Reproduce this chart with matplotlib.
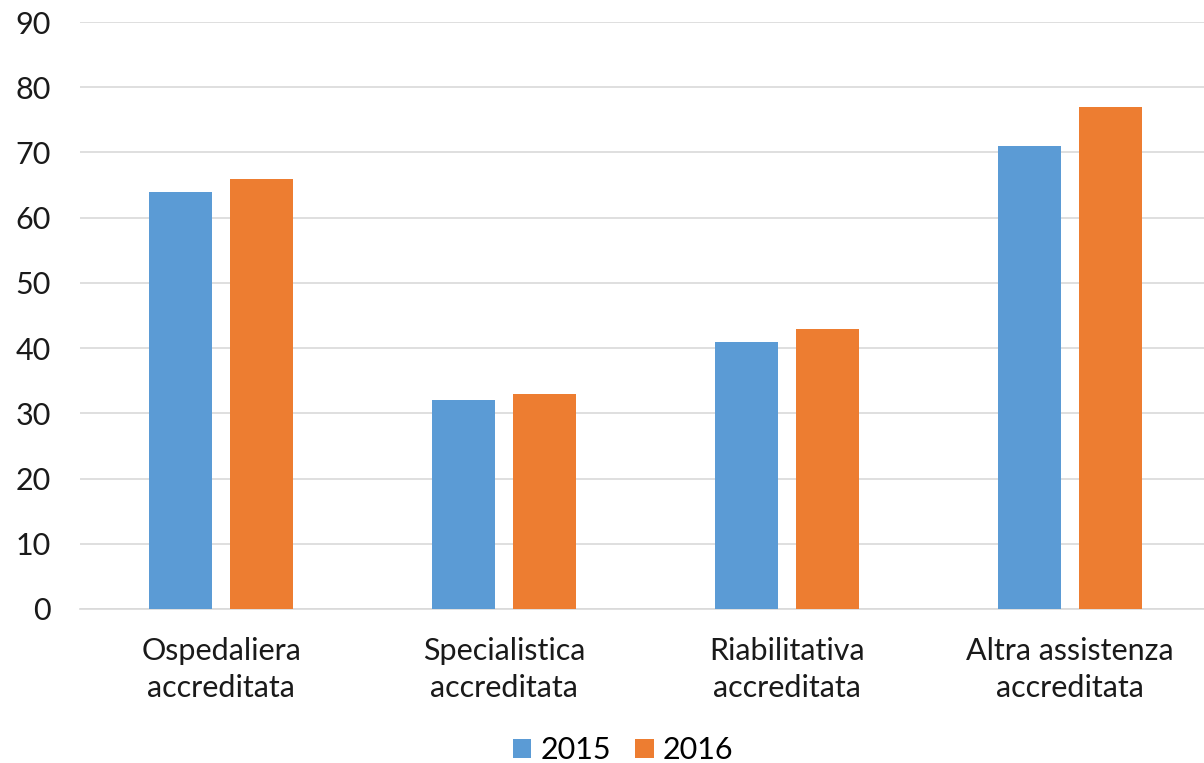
import matplotlib
matplotlib.use("Agg")
import matplotlib.pyplot as plt
import numpy as np

categories = ["Ospedaliera\naccreditata", "Specialistica\naccreditata",
              "Riabilitativa\naccreditata", "Altra assistenza\naccreditata"]
series_names = ["2015", "2016"]
values_2015 = [64, 32, 41, 71]
values_2016 = [66, 33, 43, 77]
yticks = [0, 10, 20, 30, 40, 50, 60, 70, 80, 90]

plt.rcParams['font.family'] = ['Lato', 'DejaVu Sans']

fig = plt.figure(figsize=(12.04, 7.63), dpi=100)
ax = fig.add_axes([80/1204, 1-609/763, (1211-80)/1204, (609-22)/763])

x = np.arange(len(categories))
w = 0.223
off = 0.143
ax.bar(x - off, values_2015, width=w, color="#5B9BD5", label=series_names[0], zorder=3)
ax.bar(x + off, values_2016, width=w, color="#ED7D31", label=series_names[1], zorder=3)

ax.set_xlim(-0.5, len(categories) - 0.5)
ax.set_ylim(0, 90)
ax.set_yticks(yticks)
ax.yaxis.grid(True, color="#d9d9d9", linewidth=1.2, zorder=0)
ax.set_axisbelow(True)
for s in ["top", "right", "left"]:
    ax.spines[s].set_visible(False)
ax.spines["bottom"].set_color("#d9d9d9")
ax.spines["bottom"].set_linewidth(1.2)
ax.tick_params(axis="both", length=0, labelsize=22, colors="#1a1a1a")
ax.tick_params(axis="y", pad=21)
ax.tick_params(axis="x", pad=20)
ax.set_xticks(x)
ax.set_xticklabels(categories, linespacing=1.38)

fig.legend(loc="center", bbox_to_anchor=(623/1204, 1-750/763), ncol=2, frameon=False,
           fontsize=22, handlelength=0.6, handleheight=0.6, handletextpad=0.3,
           columnspacing=0.8)

fig.savefig("out.png", dpi=100)
